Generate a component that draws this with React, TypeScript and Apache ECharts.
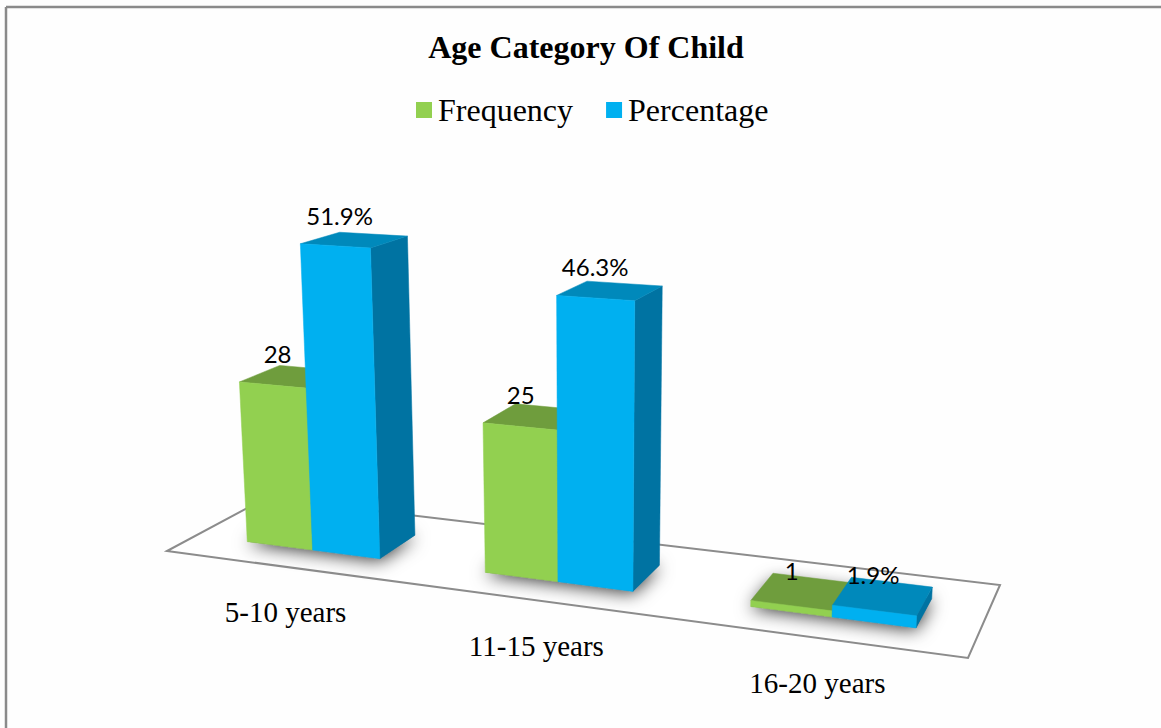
import React, { useEffect, useRef } from "react";
import * as echarts from "echarts";

const categories = ["5-10 years", "11-15 years", "16-20 years"];
const frequency = [28, 25, 1];
const percentage = [51.9, 46.3, 1.9];

const FRONT_LEFT = [167, 551];
const FRONT_RIGHT = [968, 658];
const BACK_RIGHT = [1000, 585];
const BACK_LEFT = [266, 498];
const VERTICAL_VANISH = [590, 7500];
const LIFT_PER_PIXEL = 0.000814 / 6;
const PLANE_LEFT = 167;
const PLANE_WIDTH = 801;
const PLANE_BOTTOM = 551;
const DEPTH_FRONT = 0.28;
const DEPTH_BACK = 0.69;
const BAR_SHARE = 0.285;
const BAR_NUDGE = 0.004;

// Square-to-quad homography for the floor of the 3D box.
function floorHomography() {
  const [x0, y0] = FRONT_LEFT;
  const [x1, y1] = FRONT_RIGHT;
  const [x2, y2] = BACK_RIGHT;
  const [x3, y3] = BACK_LEFT;
  const dx1 = x1 - x2, dx2 = x3 - x2, sx = x0 - x1 + x2 - x3;
  const dy1 = y1 - y2, dy2 = y3 - y2, sy = y0 - y1 + y2 - y3;
  const det = dx1 * dy2 - dy1 * dx2;
  const g = (sx * dy2 - sy * dx2) / det;
  const h = (dx1 * sy - dy1 * sx) / det;
  return {
    a: x1 * (1 + g) - x0, b: x3 * (1 + h) - x0, c: x0,
    d: y1 * (1 + g) - y0, e: y3 * (1 + h) - y0, f: y0,
    g, h,
  };
}
const H = floorHomography();

// u runs along the category axis, v into the depth, lift is pixels above the floor.
function project(u: number, v: number, lift = 0): number[] {
  const s = -lift * LIFT_PER_PIXEL;
  const X = H.a * u + H.b * v + H.c;
  const Y = H.d * u + H.e * v + H.f;
  const W = H.g * u + H.h * v + 1;
  return [
    (X + s * VERTICAL_VANISH[0]) / (W + s),
    (Y + s * VERTICAL_VANISH[1]) / (W + s),
  ];
}

const planeU = (px: number) => (px - PLANE_LEFT) / PLANE_WIDTH;

type Palette = { front: string; top: string; side: string };
const greenFaces: Palette = { front: "#92D050", top: "#6F9D3D", side: "#5F8A33" };
const blueFaces: Palette = { front: "#00B0F0", top: "#0089BB", side: "#0073A2" };

// A bar is a box: side, top and front faces projected from the cartesian plane.
function barRenderer(faces: Palette, from: number, to: number, format: (v: number) => string) {
  return (_params: any, api: any) => {
    const cat = api.value(0);
    const value = api.value(1);
    const [cx, topY] = api.coord([cat, value]);
    const band = api.size([1, 0])[0];
    const u0 = planeU(cx + from * band) + BAR_NUDGE;
    const u1 = planeU(cx + to * band) + BAR_NUDGE;
    const lift = PLANE_BOTTOM - topY;
    const polygon = (points: number[][], fill: string) => ({
      type: "polygon",
      shape: { points },
      style: { fill, stroke: fill, lineWidth: 0.5 },
    });
    const topCentre = project((u0 + u1) / 2, (DEPTH_FRONT + DEPTH_BACK) / 2, lift);
    return {
      type: "group",
      children: [
        polygon(
          [
            project(u1, DEPTH_FRONT, 0),
            project(u1, DEPTH_BACK, 0),
            project(u1, DEPTH_BACK, lift),
            project(u1, DEPTH_FRONT, lift),
          ],
          faces.side,
        ),
        polygon(
          [
            project(u0, DEPTH_FRONT, lift),
            project(u1, DEPTH_FRONT, lift),
            project(u1, DEPTH_BACK, lift),
            project(u0, DEPTH_BACK, lift),
          ],
          faces.top,
        ),
        polygon(
          [
            project(u0, DEPTH_FRONT, 0),
            project(u1, DEPTH_FRONT, 0),
            project(u1, DEPTH_FRONT, lift),
            project(u0, DEPTH_FRONT, lift),
          ],
          faces.front,
        ),
        {
          type: "text",
          x: topCentre[0] - (lift < 20 ? 10 : 15),
          y: topCentre[1] - 21 - lift / 100,
          z2: 10,
          style: {
            text: format(value),
            fill: "#000",
            font: "24px Lato",
            align: "center",
            verticalAlign: "middle",
          },
        },
      ],
    };
  };
}

function renderFloor() {
  return {
    type: "polygon",
    shape: {
      points: [project(0, 0), project(1, 0), project(1, 1), project(0, 1)],
    },
    style: { fill: "#fff", stroke: "#8c8c8c", lineWidth: 2 },
  };
}

// Soft contact shadow below each pair of bars, plus its category caption in front.
function renderBase(_params: any, api: any) {
  const cat = api.value(0);
  const [cx] = api.coord([cat, 0]);
  const band = api.size([1, 0])[0];
  const u0 = planeU(cx - BAR_SHARE * band) + BAR_NUDGE;
  const u1 = planeU(cx + BAR_SHARE * band) + BAR_NUDGE;
  const mid = project(planeU(cx), 0);
  return {
    type: "group",
    children: [
      {
        type: "polygon",
        shape: {
          points: [
            project(u0, DEPTH_FRONT),
            project(u1, DEPTH_FRONT),
            project(u1, DEPTH_BACK),
            project(u0, DEPTH_BACK),
          ],
        },
        style: {
          fill: "#777",
          shadowBlur: 18,
          shadowColor: "rgba(0,0,0,0.8)",
          shadowOffsetY: 2,
        },
      },
      {
        type: "text",
        x: mid[0] + 3,
        y: mid[1] + 46,
        style: {
          text: categories[cat],
          fill: "#000",
          font: "29px 'Liberation Serif'",
          align: "center",
          verticalAlign: "middle",
        },
      },
    ],
  };
}

export default function App() {
  const ref = useRef<HTMLDivElement>(null);

  useEffect(() => {
    const chart = echarts.init(ref.current!, undefined, { renderer: "svg" });
    chart.setOption({
      animation: false,
      backgroundColor: "#fefefe",
      title: {
        text: "Age Category Of Child",
        left: 581,
        top: 26,
        textAlign: "center",
        textStyle: {
          fontFamily: "'Liberation Serif'",
          fontWeight: "bold",
          fontSize: 32,
          color: "#000",
        },
      },
      legend: {
        data: ["Frequency", "Percentage"],
        left: 411,
        top: 89,
        icon: "rect",
        itemWidth: 16,
        itemHeight: 16,
        itemGap: 33,
        textStyle: {
          fontFamily: "'Liberation Serif'",
          fontSize: 32,
          color: "#000",
          padding: [0, 0, 0, 1],
        },
      },
      grid: { left: PLANE_LEFT, width: PLANE_WIDTH, top: 191, height: 360 },
      xAxis: { type: "category", data: categories, show: false },
      yAxis: { type: "value", min: 0, max: 60, show: false },
      graphic: [
        {
          type: "line",
          shape: { x1: 6, y1: 7, x2: 1161, y2: 7 },
          style: { stroke: "#8a8a8a", lineWidth: 2.5 },
        },
        {
          type: "line",
          shape: { x1: 6, y1: 7, x2: 6, y2: 728 },
          style: { stroke: "#8a8a8a", lineWidth: 2.5 },
        },
      ],
      series: [
        { type: "custom", name: "floor", data: [[0, 0]], renderItem: renderFloor, silent: true },
        {
          type: "custom",
          name: "base",
          data: categories.map((_, i) => [i, 0]),
          renderItem: renderBase,
          silent: true,
        },
        {
          type: "custom",
          name: "Frequency",
          data: frequency.map((v, i) => [i, v]),
          itemStyle: { color: "#92D050" },
          renderItem: barRenderer(greenFaces, -BAR_SHARE, 0, (v) => String(v)),
          silent: true,
        },
        {
          type: "custom",
          name: "Percentage",
          data: percentage.map((v, i) => [i, v]),
          itemStyle: { color: "#00B0F0" },
          renderItem: barRenderer(blueFaces, 0, BAR_SHARE, (v) => `${v}%`),
          silent: true,
        },
      ],
    });
    return () => chart.dispose();
  }, []);

  return (
    <div
      ref={ref}
      style={{ position: "fixed", left: 0, top: 0, width: 1161, height: 728 }}
    />
  );
}
